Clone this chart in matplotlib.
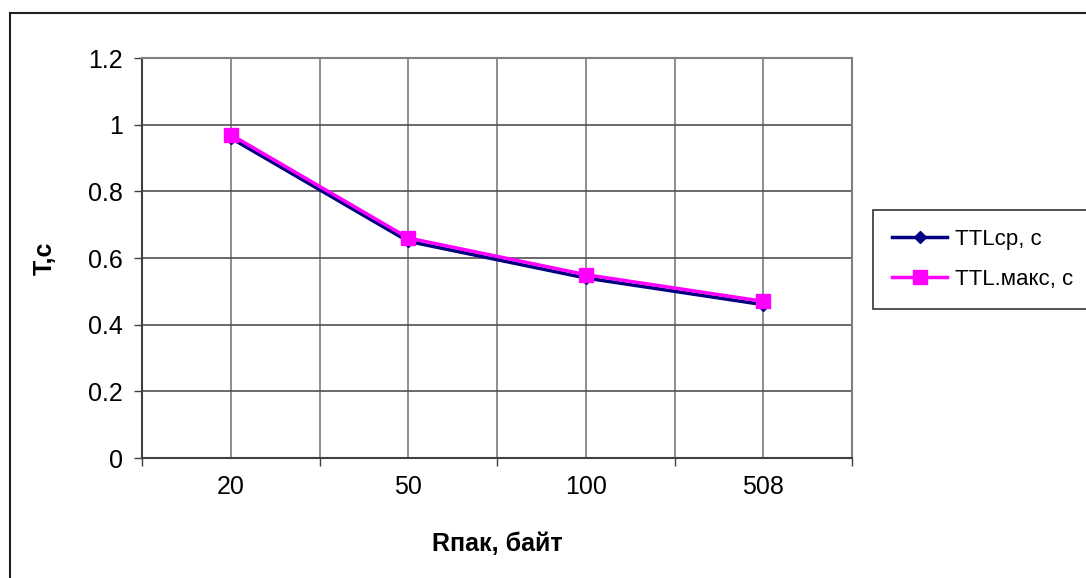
import matplotlib.pyplot as plt
from matplotlib.lines import Line2D
import numpy as np

plt.rcParams['font.family'] = ['Liberation Sans', 'DejaVu Sans']

# datos
categorias = ['20', '50', '100', '508']
ttl_sr = [0.96, 0.65, 0.54, 0.46]
ttl_maks = [0.97, 0.66, 0.55, 0.47]

W, H = 1086, 578
fig = plt.figure(figsize=(W / 100, H / 100), dpi=100)
ax = fig.add_axes([142 / W, 1 - 458 / H, 710 / W, 400 / H])

x = np.arange(len(categorias))
ax.plot(x, ttl_sr, color='#000080', lw=2.5, marker='D', markersize=6,
        label='TTLср, с', zorder=3)
ax.plot(x, ttl_maks, color='#FF00FF', lw=2.5, marker='s', markersize=10,
        label='TTL.макс, с', zorder=4)

ax.set_xlim(-0.5, len(categorias) - 0.5)
ax.set_ylim(0, 1.2)
ax.set_yticks(np.arange(0, 1.21, 0.2))
ax.set_yticklabels(['0', '0.2', '0.4', '0.6', '0.8', '1', '1.2'])
ax.set_xticks(x)
ax.set_xticklabels(categorias)
ax.set_xticks(np.arange(-0.5, len(categorias), 1.0), minor=True)

ax.tick_params(axis='x', which='major', length=0, pad=12, labelsize=18)
ax.tick_params(axis='x', which='minor', length=6, width=1, color='#404040')
ax.tick_params(axis='y', length=6, width=1, color='#404040', pad=8, labelsize=18)

ax.grid(True, axis='x', which='both', color='#7a7a7a', lw=1.2)
ax.grid(True, axis='y', which='major', color='#505050', lw=1.2)
ax.set_axisbelow(True)

for s in ['left', 'bottom']:
    ax.spines[s].set_color('#404040')
    ax.spines[s].set_linewidth(1.5)
for s in ['top', 'right']:
    ax.spines[s].set_color('#808080')
    ax.spines[s].set_linewidth(1.5)

ax.set_xlabel('Rпак, байт', fontsize=18, fontweight='bold', labelpad=24)
ax.set_ylabel('T,c', fontsize=18, fontweight='bold', labelpad=22)

leg = fig.legend(loc='upper left', bbox_to_anchor=(873 / W, 1 - 210 / H),
                 fontsize=16, frameon=True, fancybox=False, handlelength=2.5,
                 handletextpad=0.35, borderpad=0.85, labelspacing=0.85,
                 borderaxespad=0)
leg.get_frame().set_edgecolor('black')
leg.get_frame().set_linewidth(1.2)

# marco exterior del gráfico
fig.add_artist(Line2D([10 / W, 1], [1 - 13 / H, 1 - 13 / H], color='#202020', lw=1.5))
fig.add_artist(Line2D([10 / W, 10 / W], [0, 1 - 13 / H], color='#202020', lw=1.5))

plt.savefig('out.png', dpi=100)
